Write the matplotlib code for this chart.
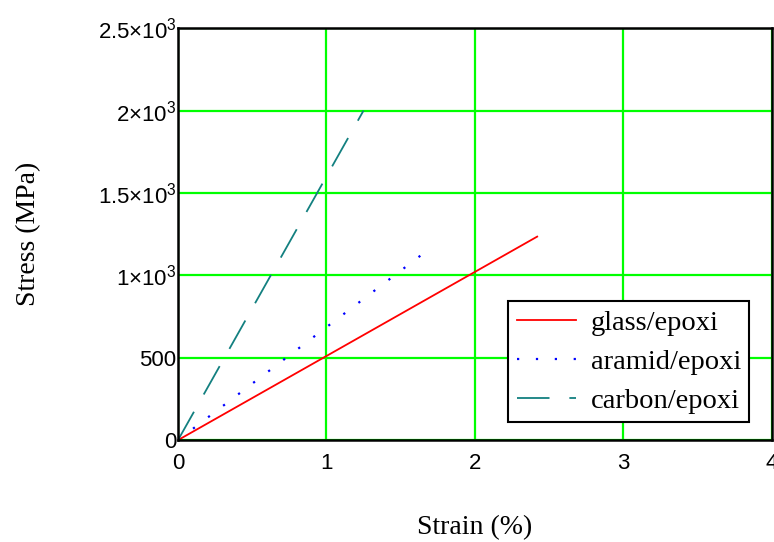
import matplotlib
matplotlib.use('Agg')
import matplotlib.pyplot as plt

# Stress-strain (linear up to failure)
series_names = ['glass/epoxi', 'aramid/epoxi', 'carbon/epoxi']
strain_glass = [0, 2.42]
stress_glass = [0, 1235]
strain_aramid = [0, 1.70]
stress_aramid = [0, 1165]
strain_carbon = [0, 1.25]
stress_carbon = [0, 2000]

x_ticks = [0, 1, 2, 3, 4]
y_ticks = [0, 500, 1000, 1500, 2000, 2500]
y_tick_labels = ['0', '500', r'1$\times$10$^3$', r'1.5$\times$10$^3$',
                 r'2$\times$10$^3$', r'2.5$\times$10$^3$']

plt.rcParams['mathtext.fontset'] = 'custom'
plt.rcParams['mathtext.rm'] = 'Liberation Sans'
plt.rcParams['mathtext.it'] = 'Liberation Sans'

fig = plt.figure(figsize=(7.74, 5.42), dpi=100)
ax = fig.add_axes([0.230, 0.188, 0.767, 0.760])

ax.plot(strain_glass, stress_glass, color='#ff0000', lw=1.3, label=series_names[0])
ax.plot(strain_aramid, stress_aramid, color='#0000ff', lw=1.6,
        dashes=(1, 7.5), label=series_names[1])
ax.plot(strain_carbon, stress_carbon, color='#138080', lw=1.3,
        dashes=(18, 11), label=series_names[2])

ax.set_xlim(0, 4)
ax.set_ylim(0, 2500)
ax.set_xticks(x_ticks)
ax.set_yticks(y_ticks)
ax.set_yticklabels(y_tick_labels)
ax.grid(True, color='#00ff00', lw=1.6)
ax.set_axisbelow(True)
ax.tick_params(length=0, labelsize=16)
ax.tick_params(axis='x', pad=9)
ax.tick_params(axis='y', pad=1)
for lab in ax.get_xticklabels() + ax.get_yticklabels():
    lab.set_family('Liberation Sans')
for s in ax.spines.values():
    s.set_linewidth(1.8)
    s.set_color('black')

ax.set_xlabel('Strain (%)', family='Liberation Serif', fontsize=20, labelpad=30)
ax.set_ylabel('Stress (MPa)', family='Liberation Serif', fontsize=20, labelpad=41)

leg = ax.legend(loc='upper left', bbox_to_anchor=(0.556, 0.337),
                prop={'family': 'Liberation Serif', 'size': 20.5},
                frameon=True, fancybox=False, borderpad=0.3,
                handlelength=2.1, handletextpad=0.5, labelspacing=0.46,
                borderaxespad=0)
leg.get_frame().set_edgecolor('black')
leg.get_frame().set_linewidth(1.5)
leg.get_frame().set_alpha(1)

fig.savefig('out.png', dpi=100)
